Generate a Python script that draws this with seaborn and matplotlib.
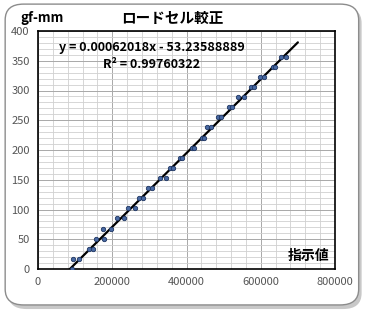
import numpy as np
import pandas as pd
import matplotlib
matplotlib.use("Agg")
import matplotlib.pyplot as plt
import seaborn as sns
from matplotlib.patches import FancyBboxPatch
from matplotlib.ticker import MultipleLocator

# ---- data ----
load_levels = [0, 17, 17, 34, 34, 51, 51, 68, 68, 85, 85, 102, 102, 119, 119,
               136, 136, 153, 153, 170, 170, 187, 187, 204, 204, 221, 221,
               238, 238, 255, 255, 272, 272, 289, 289, 306, 306, 323, 323,
               340, 340, 357, 357]
indicator = [91600, 94300, 110400, 137000, 148000, 156000, 178000, 176000, 196000,
             212000, 231600, 241600, 261300, 273000, 283600, 295500, 308000,
             328600, 344000, 355600, 364500, 383000, 387000, 414000, 421000,
             443000, 447000, 454400, 465200, 485700, 493000, 514000, 523000,
             540000, 556000, 574000, 582000, 598000, 610000, 634000, 638000,
             654000, 669000]
slope = 0.00062018
intercept = -53.23588889
line_x = [85841, 700000]
x_ticks = [0, 200000, 400000, 600000, 800000]
y_ticks = [0, 50, 100, 150, 200, 250, 300, 350, 400]
title = "ロードセル較正"
y_label = "gf-mm"
x_label = "指示値"
eq_text = "y = 0.00062018x - 53.23588889"
r2_text = "R² = 0.99760322"

sns.set_theme(style="white")
plt.rcParams['font.family'] = ['Noto Sans CJK JP', 'DejaVu Sans']

fig = plt.figure(figsize=(3.69, 3.16), dpi=100)
fig.patch.set_facecolor("white")

# rounded frame with shadow
shadow = FancyBboxPatch((0.022, 0.022), 0.958, 0.955, boxstyle="round,pad=0,rounding_size=0.05",
                        transform=fig.transFigure, facecolor="#c8c8c8", edgecolor="none", zorder=-3)
frame = FancyBboxPatch((0.014, 0.035), 0.958, 0.952, boxstyle="round,pad=0,rounding_size=0.05",
                       transform=fig.transFigure, facecolor="white", edgecolor="#8c8c8c",
                       linewidth=1.0, zorder=-2)
fig.patches.extend([shadow, frame])

ax = fig.add_axes([38/369, 1-269/316, 297/369, 238/316])
ax.set_facecolor("white")

df = pd.DataFrame({"x": indicator, "y": load_levels})
line_y = [slope * v + intercept for v in line_x]
sns.lineplot(x=line_x, y=line_y, ax=ax, color="black", linewidth=1.6, zorder=3)
sns.scatterplot(data=df, x="x", y="y", ax=ax, s=10, color="#4a6aa3",
                edgecolor="#1d3461", linewidth=0.6, zorder=4)

ax.set_xlim(0, 800000)
ax.set_ylim(0, 400)
ax.set_xticks(x_ticks)
ax.set_yticks(y_ticks)
ax.set_xticklabels([str(v) for v in x_ticks])
ax.xaxis.set_minor_locator(MultipleLocator(40000))
ax.yaxis.set_minor_locator(MultipleLocator(10))
ax.grid(which="major", color="#a8a8a8", linewidth=0.7)
ax.grid(which="minor", color="#d0d0d0", linewidth=0.6)
ax.set_axisbelow(True)
for s in ax.spines.values():
    s.set_color("black")
    s.set_linewidth(1.2)
ax.tick_params(axis="both", which="both", length=0, labelsize=8, colors="#555555", pad=6)
ax.set_xlabel("")
ax.set_ylabel("")

fig.text(172/369, 1-18/316, title, ha="center", va="center", fontsize=10.5,
         fontweight="bold", color="black")
fig.text(20/369, 1-18/316, y_label, ha="left", va="center", fontsize=9.5,
         fontweight="bold", color="black")
ax.text(0.98, 0.025, x_label, transform=ax.transAxes, ha="right", va="bottom",
        fontsize=10, fontweight="bold", color="black")
fig.text(152/369, 1-47/316, eq_text, ha="center", va="center", fontsize=9,
         fontweight="bold", color="black")
fig.text(152/369, 1-65/316, r2_text, ha="center", va="center", fontsize=9,
         fontweight="bold", color="black")

fig.savefig("out.png", dpi=100, facecolor="white")
